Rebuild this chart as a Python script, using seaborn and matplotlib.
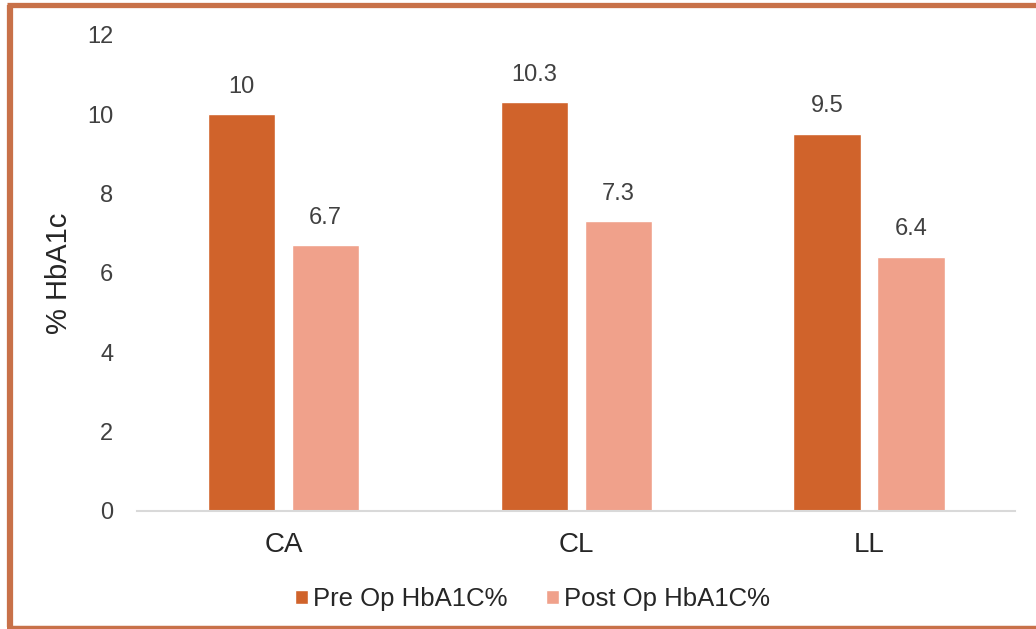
import pandas as pd
import matplotlib
matplotlib.use("Agg")
import matplotlib.pyplot as plt
import seaborn as sns
from matplotlib.lines import Line2D

# chart data
categories = ["CA", "CL", "LL"]
pre_op = [10, 10.3, 9.5]
post_op = [6.7, 7.3, 6.4]
series_names = ["Pre Op HbA1C%", "Post Op HbA1C%"]
y_ticks = [0, 2, 4, 6, 8, 10, 12]

colors = ["#D0632B", "#F0A18B"]
border_color = "#C87149"
text_color = "#404040"

df = pd.DataFrame({
    "group": categories * 2,
    "series": [series_names[0]] * 3 + [series_names[1]] * 3,
    "value": pre_op + post_op,
})

sns.set_theme(style="white")
plt.rcParams["font.family"] = ["Liberation Sans", "DejaVu Sans"]

fig = plt.figure(figsize=(10.36, 6.29), dpi=100)
ax = fig.add_axes([0.1322, 0.1876, 0.848, 0.7568])

sns.barplot(data=df, x="group", y="value", hue="series", order=categories,
            hue_order=series_names, palette=colors, width=0.574, gap=0.2,
            saturation=1, ax=ax, legend=True)

ax.set_ylim(0, 12)
ax.set_yticks(y_ticks)
ax.set_xlim(-0.5, 2.5)
ax.set_xlabel("")
ax.set_ylabel("% HbA1c", fontsize=21, color="#262626", labelpad=10)
ax.tick_params(axis="y", labelsize=17, labelcolor=text_color, length=0, pad=17)
ax.tick_params(axis="x", labelsize=20, labelcolor="#262626", length=0, pad=15)

for s in ["left", "right", "top"]:
    ax.spines[s].set_visible(False)
ax.spines["bottom"].set_color("#D9D9D9")
ax.spines["bottom"].set_linewidth(1.5)

# value labels above bars
for cont in ax.containers:
    ax.bar_label(cont, labels=[f"{v:g}" for v in cont.datavalues],
                 padding=12, fontsize=17, color=text_color)

handles, labels = ax.get_legend_handles_labels()
ax.legend(handles, labels, loc="center", bbox_to_anchor=(0.45, -0.185),
          ncol=2, frameon=False, fontsize=18.5, handlelength=0.5,
          handleheight=0.5, handletextpad=0.2, columnspacing=1.5,
          labelcolor="#262626")

# frame around the picture (no right side)
fig.add_artist(Line2D([0.0097, 0.0097], [0.003, 0.992], transform=fig.transFigure,
                      color=border_color, linewidth=4.5, solid_capstyle="butt"))
fig.add_artist(Line2D([0.0067, 1.0], [0.992, 0.992], transform=fig.transFigure,
                      color=border_color, linewidth=3.8, solid_capstyle="butt"))
fig.add_artist(Line2D([0.0067, 1.0], [0.002, 0.002], transform=fig.transFigure,
                      color=border_color, linewidth=3.2, solid_capstyle="butt"))

fig.savefig("out.png", dpi=100)
